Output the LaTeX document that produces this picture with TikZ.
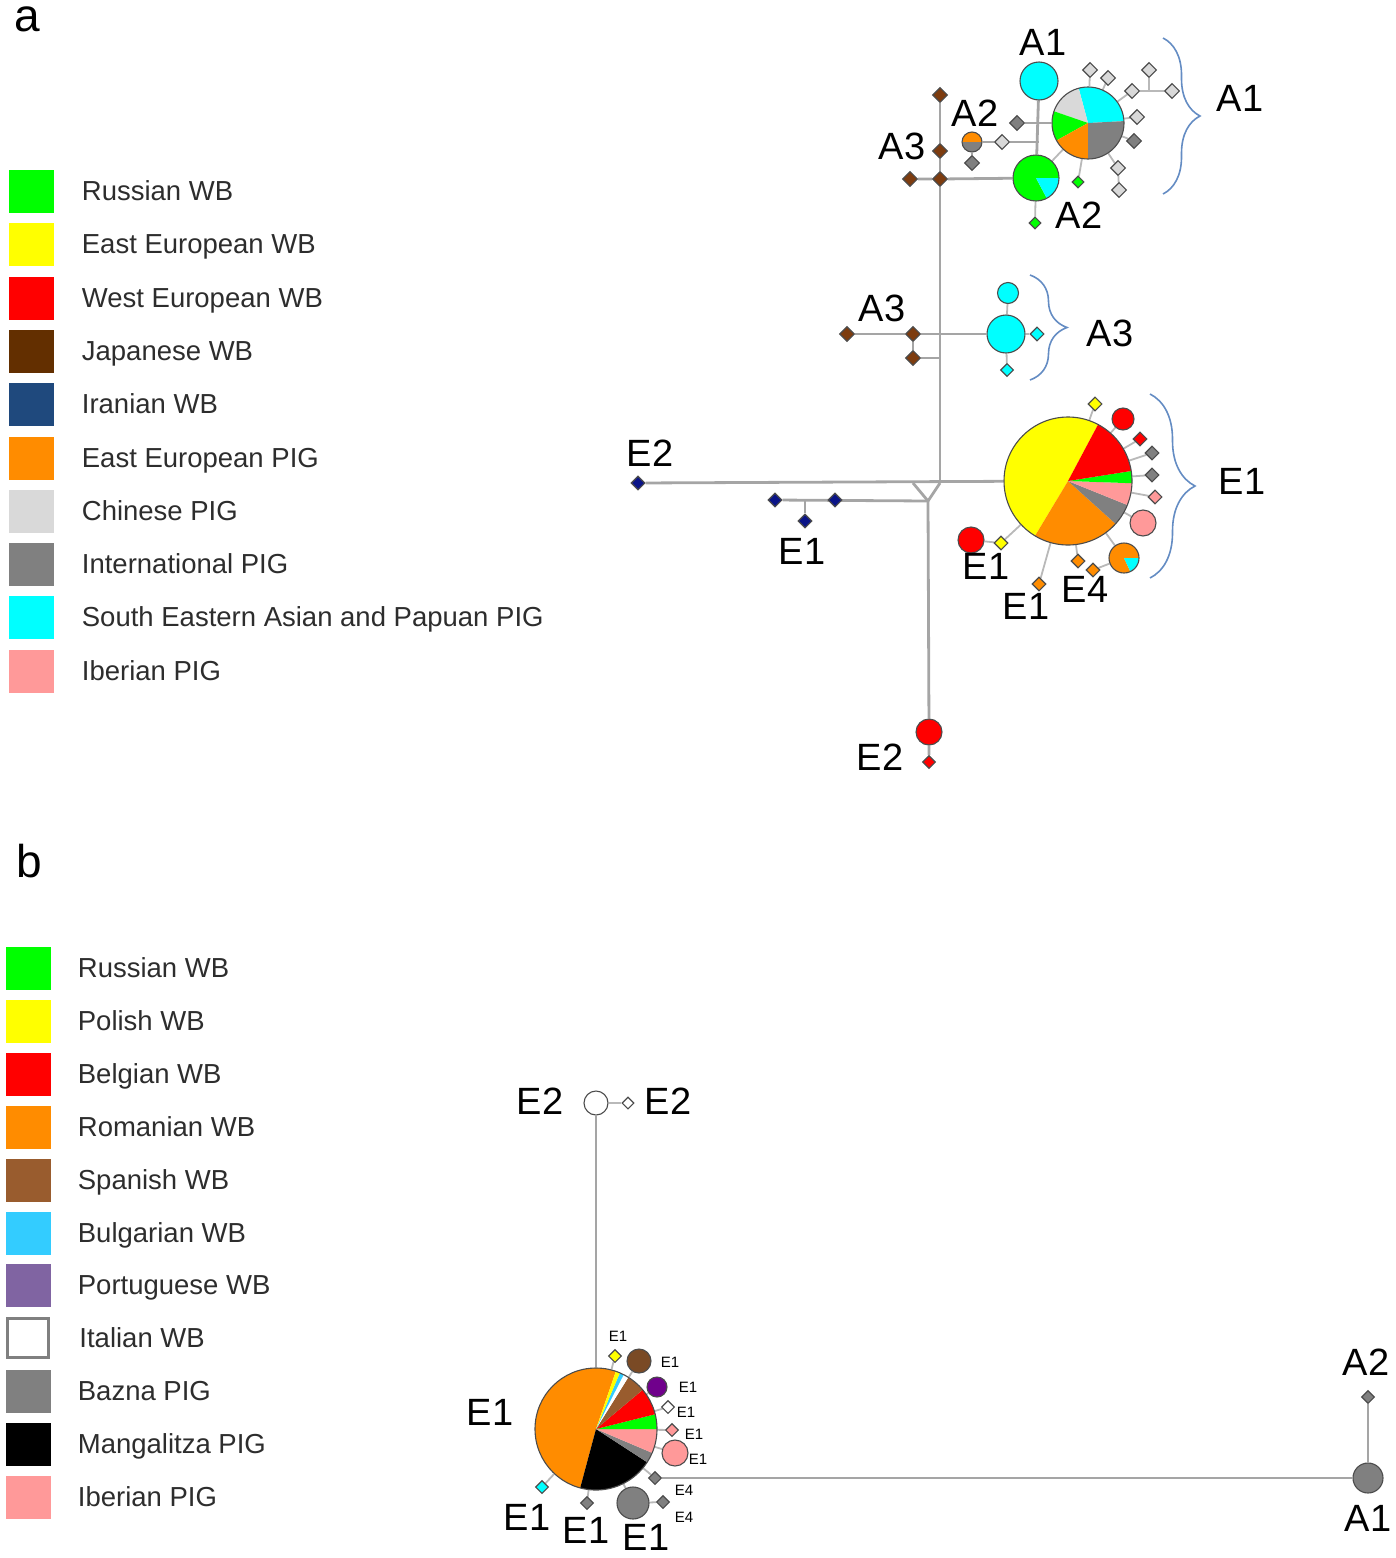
\documentclass[tikz,border=0pt]{standalone}
\usepackage{fontspec}
\setmainfont{Liberation Sans}
\usetikzlibrary{positioning}
\usetikzlibrary{shapes.geometric}
\usetikzlibrary{decorations.pathreplacing}

\definecolor{rus}{RGB}{0,255,0}
\definecolor{eeu}{RGB}{255,255,0}
\definecolor{weu}{RGB}{255,0,0}
\definecolor{jap}{RGB}{99,47,0}
\definecolor{japn}{RGB}{125,60,15}
\definecolor{ira}{RGB}{31,73,125}
\definecolor{iran}{RGB}{10,20,135}
\definecolor{eepig}{RGB}{255,140,0}
\definecolor{chpig}{RGB}{217,217,217}
\definecolor{intpig}{RGB}{128,128,128}
\definecolor{seapig}{RGB}{0,255,255}
\definecolor{ibpig}{RGB}{255,153,153}
\definecolor{spa}{RGB}{153,92,46}
\definecolor{bul}{RGB}{51,204,255}
\definecolor{por}{RGB}{128,100,162}
\definecolor{purp}{RGB}{112,0,140}
\definecolor{linkgray}{RGB}{165,165,165}
\definecolor{twiggray}{RGB}{185,185,185}
\definecolor{bracecol}{RGB}{100,140,195}
\definecolor{keyink}{RGB}{45,45,45}

\newcommand{\legfont}{\fontsize{27.5}{33}\selectfont}
\newcommand{\labfont}{\fontsize{38}{44}\selectfont}
\newcommand{\minifont}{\fontsize{15}{18}\selectfont}
\newcommand{\headfont}{\fontsize{46}{52}\selectfont}
% one wedge of a haplotype pie: centre, radius, from, to, colour
\newcommand{\hapslice}[5]{\fill[#5] (#1) -- ++({-(#3)}:#2) arc[start angle={-(#3)}, end angle={-(#4)}, radius=#2] -- cycle;}

\pgfdeclarelayer{bg}
\pgfsetlayers{bg,main}

\tikzset{
  link/.style={draw=linkgray, line width=2.8pt},
  twig/.style={draw=twiggray, line width=1.8pt},
  hap/.style={circle, draw=black!70, line width=1.1pt, inner sep=0pt},
  mv/.style={diamond, draw=black!70, line width=1.1pt, inner sep=0pt, minimum size=15pt},
  pieedge/.style={circle, draw=black!70, line width=1.1pt, inner sep=0pt},
  keybox/.style={minimum width=45pt, minimum height=43pt, inner sep=0pt},
  keytext/.style={anchor=west, font=\legfont, text=keyink, inner sep=0pt, text height=19.8pt, text depth=0pt},
  lab/.style={font=\labfont, inner sep=0pt, text height=27.3pt, text depth=0pt},
  minilab/.style={font=\minifont, inner sep=0pt, text height=10.8pt, text depth=0pt},
  headlab/.style={font=\headfont, anchor=base, inner sep=0pt, text height=24pt, text depth=0pt},
  grpbrace/.style={decorate, decoration={brace, amplitude=#1}, draw=bracecol, line width=1.6pt},
}

\begin{document}
\begin{tikzpicture}[x=1pt,y=-1pt]
\useasboundingbox (0,0) rectangle (1395,1558);

%% ---------------- panel a ----------------
\node[headlab] (heada) at (27,31) {a};

% legend a
\node[keybox, fill=rus] (ka1) at (31,191) {};
\node[keytext, right=28pt of ka1] (ta1) {Russian WB};
\node[keybox, fill=eeu] (ka2) at (31,244) {};
\node[keytext, right=28pt of ka2] (ta2) {East European WB};
\node[keybox, fill=weu] (ka3) at (31,298) {};
\node[keytext, right=28pt of ka3] (ta3) {West European WB};
\node[keybox, fill=jap] (ka4) at (31,351) {};
\node[keytext, right=28pt of ka4] (ta4) {Japanese WB};
\node[keybox, fill=ira] (ka5) at (31,404) {};
\node[keytext, right=28pt of ka5] (ta5) {Iranian WB};
\node[keybox, fill=eepig] (ka6) at (31,458) {};
\node[keytext, right=28pt of ka6] (ta6) {East European PIG};
\node[keybox, fill=chpig] (ka7) at (31,511) {};
\node[keytext, right=28pt of ka7] (ta7) {Chinese PIG};
\node[keybox, fill=intpig] (ka8) at (31,564) {};
\node[keytext, right=28pt of ka8] (ta8) {International PIG};
\node[keybox, fill=seapig] (ka9) at (31,617) {};
\node[keytext, right=28pt of ka9] (ta9) {South Eastern Asian and Papuan PIG};
\node[keybox, fill=ibpig] (ka10) at (31,671) {};
\node[keytext, right=28pt of ka10] (ta10) {Iberian PIG};

% backbone junctions
\coordinate (t1) at (913,483);
\coordinate (t2) at (940,483);
\coordinate (t3) at (928,501);
\coordinate (k1) at (805,500);
\coordinate (k2) at (1149,91);
\coordinate (vb3) at (940,358);

% A1 / A2 group
\coordinate (cpA1) at (1088,123);
\hapslice{cpA1}{36}{3}{105}{seapig}
\hapslice{cpA1}{36}{105}{161}{chpig}
\hapslice{cpA1}{36}{161}{209}{rus}
\hapslice{cpA1}{36}{209}{270}{eepig}
\hapslice{cpA1}{36}{270}{363}{intpig}
\node[pieedge, minimum size=72pt] (pA1) at (cpA1) {};
\coordinate (cgA2) at (1036,178);
\hapslice{cgA2}{23}{0}{298}{rus}
\hapslice{cgA2}{23}{298}{360}{seapig}
\node[pieedge, minimum size=46pt] (gA2) at (cgA2) {};
\coordinate (coA2) at (972,142);
\hapslice{coA2}{10}{0}{180}{eepig}
\hapslice{coA2}{10}{180}{360}{intpig}
\node[pieedge, minimum size=20pt] (oA2) at (coA2) {};
\node[hap, fill=seapig, minimum size=38pt] (cA1) at (1039,81) {};
\node[mv, fill=intpig] (dA2) at (972,163) {};
\node[mv, fill=chpig] (lA2) at (1002,142) {};
\coordinate (kA) at (cA1 |- lA2);
\node[mv, fill=intpig] (dgA) at (1017,123) {};
\node[mv, fill=chpig] (s1) at (1090,70) {};
\node[mv, fill=chpig] (s2) at (1108,78) {};
\node[mv, fill=chpig] (s3) at (1132,91) {};
\node[mv, fill=chpig] (s4) at (1149,70) {};
\node[mv, fill=chpig] (s5) at (1172,91) {};
\node[mv, fill=chpig] (s6) at (1137,117) {};
\node[mv, fill=intpig] (s7) at (1134,141) {};
\node[mv, fill=chpig] (s8) at (1118,168) {};
\node[mv, fill=chpig] (s9) at (1119,190) {};
\node[mv, fill=rus, minimum size=12pt] (gd1) at (1078,182) {};
\node[mv, fill=rus, minimum size=12pt] (gd2) at (1035,223) {};

% Japanese haplotypes
\node[mv, fill=japn] (ja1) at (940,95) {};
\node[mv, fill=japn] (ja2) at (940,151) {};
\node[mv, fill=japn] (ja3) at (940,179) {};
\node[mv, fill=japn] (ja4) at (910,179) {};
\node[mv, fill=japn] (jb1) at (847,334) {};
\node[mv, fill=japn] (jb2) at (913,334) {};
\node[mv, fill=japn] (jb3) at (913,358) {};

% A3 group
\node[hap, fill=seapig, minimum size=38pt] (cA3) at (1006,334) {};
\node[hap, fill=seapig, minimum size=21pt] (c3a) at (1008,293) {};
\node[mv, fill=seapig, minimum size=14pt] (c3b) at (1037,334) {};
\node[mv, fill=seapig, minimum size=13pt] (c3c) at (1007,370) {};

% Iranian haplotypes
\node[mv, fill=iran, minimum size=14pt] (iE2) at (638,483) {};
\node[mv, fill=iran, minimum size=14pt] (i1) at (775,500) {};
\node[mv, fill=iran, minimum size=14pt] (i2) at (835,500) {};
\node[mv, fill=iran, minimum size=14pt] (i3) at (805,521) {};

% E1 group
\coordinate (cpE1) at (1068,481);
\hapslice{cpE1}{64}{62}{239}{eeu}
\hapslice{cpE1}{64}{239}{318}{eepig}
\hapslice{cpE1}{64}{318}{338}{intpig}
\hapslice{cpE1}{64}{338}{358}{ibpig}
\hapslice{cpE1}{64}{358}{369}{rus}
\hapslice{cpE1}{64}{369}{422}{weu}
\node[pieedge, minimum size=128pt] (pE1) at (cpE1) {};
\coordinate (ce8) at (1124,558);
\hapslice{ce8}{15}{0}{295}{eepig}
\hapslice{ce8}{15}{295}{360}{seapig}
\node[pieedge, minimum size=30pt] (e8) at (ce8) {};
\node[mv, fill=eeu, minimum size=14pt] (e1) at (1095,404) {};
\node[hap, fill=weu, minimum size=22pt] (e2) at (1123,419) {};
\node[mv, fill=weu, minimum size=14pt] (e3) at (1140,439) {};
\node[mv, fill=intpig, minimum size=14pt] (e4) at (1152,453) {};
\node[mv, fill=intpig, minimum size=14pt] (e5) at (1152,475) {};
\node[mv, fill=ibpig, minimum size=14pt] (e6) at (1155,497) {};
\node[hap, fill=ibpig, minimum size=26pt] (e7) at (1143,523) {};
\node[mv, fill=eepig, minimum size=14pt] (e9) at (1093,570) {};
\node[mv, fill=eepig, minimum size=14pt] (e10) at (1078,561) {};
\node[mv, fill=eepig, minimum size=14pt] (e11) at (1039,584) {};
\node[mv, fill=eeu, minimum size=14pt] (e12) at (1001,543) {};
\node[hap, fill=weu, minimum size=26pt] (e13) at (971,540) {};

% West European E2
\node[hap, fill=weu, minimum size=26pt] (rE2) at (929,732) {};
\node[mv, fill=weu, minimum size=13pt] (rE2b) at (929,762) {};

% labels a
\node[lab] (xA1t) at (1043,42) {A1};
\node[lab] (xA2a) at (975,113) {A2};
\node[lab] (xA3a) at (902,146) {A3};
\node[lab] (xA2b) at (1079,215) {A2};
\node[lab] (xA1r) at (1240,98) {A1};
\node[lab] (xA3b) at (882,308) {A3};
\node[lab] (xA3r) at (1110,333) {A3};
\node[lab] (xE2a) at (650,453) {E2};
\node[lab] (xE1a) at (802,551) {E1};
\node[lab] (xE1r) at (1242,481) {E1};
\node[lab] (xE1b) at (986,566) {E1};
\node[lab] (xE1c) at (1026,606) {E1};
\node[lab] (xE4a) at (1085,589) {E4};
\node[lab] (xE2b) at (880,757) {E2};

% braces
\draw[grpbrace=37pt] (1163,38) -- (1163,194);
\draw[grpbrace=37pt] (1030,275) -- (1030,380);
\draw[grpbrace=45pt] (1150,394) -- (1150,578);

%% ---------------- panel b ----------------
\node[headlab, text height=33pt] (headb) at (29,877) {b};

% legend b
\node[keybox, fill=rus] (kb1) at (28,968) {};
\node[keytext, right=27pt of kb1] (tb1) {Russian WB};
\node[keybox, fill=eeu] (kb2) at (28,1021) {};
\node[keytext, right=27pt of kb2] (tb2) {Polish WB};
\node[keybox, fill=weu] (kb3) at (28,1074) {};
\node[keytext, right=27pt of kb3] (tb3) {Belgian WB};
\node[keybox, fill=eepig] (kb4) at (28,1127) {};
\node[keytext, right=27pt of kb4] (tb4) {Romanian WB};
\node[keybox, fill=spa] (kb5) at (28,1180) {};
\node[keytext, right=27pt of kb5] (tb5) {Spanish WB};
\node[keybox, fill=bul] (kb6) at (28,1233) {};
\node[keytext, right=27pt of kb6] (tb6) {Bulgarian WB};
\node[keybox, fill=por] (kb7) at (28,1285) {};
\node[keytext, right=27pt of kb7] (tb7) {Portuguese WB};
\node[keybox, fill=white, draw=intpig, line width=3.5pt, minimum width=41pt, minimum height=39pt] (kb8) at (28,1338) {};
\node[keytext, right=29pt of kb8] (tb8) {Italian WB};
\node[keybox, fill=intpig] (kb9) at (28,1391) {};
\node[keytext, right=27pt of kb9] (tb9) {Bazna PIG};
\node[keybox, fill=black] (kb10) at (28,1444) {};
\node[keytext, right=27pt of kb10] (tb10) {Mangalitza PIG};
\node[keybox, fill=ibpig] (kb11) at (28,1497) {};
\node[keytext, right=27pt of kb11] (tb11) {Iberian PIG};

% E1 pie b
\coordinate (cpB) at (596,1429);
\hapslice{cpB}{61}{71}{255}{eepig}
\hapslice{cpB}{61}{255}{327}{black}
\hapslice{cpB}{61}{327}{337}{intpig}
\hapslice{cpB}{61}{337}{360}{ibpig}
\hapslice{cpB}{61}{360}{374}{rus}
\hapslice{cpB}{61}{374}{400}{weu}
\hapslice{cpB}{61}{400}{418}{spa}
\hapslice{cpB}{61}{418}{423}{white}
\hapslice{cpB}{61}{423}{427}{bul}
\hapslice{cpB}{61}{427}{431}{eeu}
\node[pieedge, minimum size=122pt] (pB) at (cpB) {};
\node[mv, fill=eeu, minimum size=13pt] (b1) at (615,1356) {};
\node[hap, fill=spa!80!black, minimum size=24pt] (b2) at (639,1361) {};
\node[hap, fill=purp, minimum size=20pt] (b3) at (657,1387) {};
\node[mv, fill=white, minimum size=13pt] (b4) at (668,1407) {};
\node[mv, fill=ibpig, minimum size=13pt] (b5) at (672,1430) {};
\node[hap, fill=ibpig, minimum size=26pt] (b6) at (675,1453) {};
\node[mv, fill=intpig, minimum size=13pt] (b7) at (655,1478) {};
\node[mv, fill=intpig, minimum size=13pt] (b8) at (663,1502) {};
\node[hap, fill=intpig, minimum size=32pt] (b9) at (633,1503) {};
\node[mv, fill=intpig, minimum size=13pt] (b10) at (587,1503) {};
\node[mv, fill=seapig, minimum size=13pt] (b11) at (542,1487) {};
\node[hap, fill=white, minimum size=24pt] (wE2) at (596,1103) {};
\node[mv, fill=white, minimum size=12pt] (wE2b) at (628,1103) {};
\node[hap, fill=intpig, minimum size=30pt] (gA1b) at (1368,1478) {};
\node[mv, fill=intpig, minimum size=13pt] (dA2b) at (1368,1397) {};

% labels b
\node[lab] (yE2l) at (540,1101) {E2};
\node[lab] (yE2r) at (668,1101) {E2};
\node[lab] (yE1l) at (490,1412) {E1};
\node[lab] (yE1a) at (527,1517) {E1};
\node[lab] (yE1b) at (586,1530) {E1};
\node[lab] (yE1c) at (646,1537) {E1};
\node[lab] (yA2) at (1366,1362) {A2};
\node[lab] (yA1) at (1368,1518) {A1};
\node[minilab] (m1) at (618,1336) {E1};
\node[minilab] (m2) at (670,1362) {E1};
\node[minilab] (m3) at (688,1387) {E1};
\node[minilab] (m4) at (686,1412) {E1};
\node[minilab] (m5) at (694,1434) {E1};
\node[minilab] (m6) at (698,1459) {E1};
\node[minilab] (m7) at (684,1490) {E4};
\node[minilab] (m8) at (684,1517) {E4};

%% ---------------- connectors ----------------
\begin{pgfonlayer}{bg}
\draw[link] (ja1) -- (ja2) -- (ja3) -- (t2);
\draw[link] (ja4) -- (ja3) -- (gA2);
\draw[link] (jb1) -- (jb2) -- (cA3);
\draw[link] (jb2) -- (jb3) -- (vb3);
\draw[link] (iE2) -- (pE1);
\draw[link] (t1) -- (t3) -- (t2);
\draw[link] (i1) -- (t3);
\draw[link] (k1) -- (i3);
\draw[link] (t3) -- (rE2) -- (rE2b);
\draw[link] (cA1) -- (gA2);
\draw[link] (oA2) -- (lA2) -- (kA);
\draw[link] (oA2) -- (dA2);
\draw[link] (dgA) -- (pA1);
\draw[twig] (gA2) -- (pA1);
\draw[twig] (s1) -- (pA1);
\draw[twig] (s2) -- (pA1);
\draw[twig] (s3) -- (pA1);
\draw[twig] (s3) -- (s5);
\draw[twig] (k2) -- (s4);
\draw[twig] (s6) -- (pA1);
\draw[twig] (s7) -- (pA1);
\draw[twig] (s8) -- (pA1);
\draw[twig] (s8) -- (s9);
\draw[twig] (gd1) -- (pA1);
\draw[twig] (gd2) -- (gA2);
\draw[twig] (cA3) -- (c3a);
\draw[twig] (cA3) -- (c3b);
\draw[twig] (cA3) -- (c3c);
\draw[twig] (e1) -- (pE1);
\draw[twig] (e2) -- (pE1);
\draw[twig] (e3) -- (pE1);
\draw[twig] (e4) -- (pE1);
\draw[twig] (e5) -- (pE1);
\draw[twig] (e6) -- (pE1);
\draw[twig] (e7) -- (pE1);
\draw[twig] (e8) -- (pE1);
\draw[twig] (e8) -- (e9);
\draw[twig] (e10) -- (pE1);
\draw[twig] (e11) -- (pE1);
\draw[twig] (e12) -- (pE1);
\draw[twig] (e13) -- (e12);
% panel b
\draw[link] (pB) -- (wE2);
\draw[twig] (wE2) -- (wE2b);
\draw[link] (b7) -- (gA1b);
\draw[link] (gA1b) -- (dA2b);
\draw[twig] (b1) -- (pB);
\draw[twig] (b2) -- (pB);
\draw[twig] (b3) -- (pB);
\draw[twig] (b4) -- (pB);
\draw[twig] (b5) -- (pB);
\draw[twig] (b6) -- (pB);
\draw[twig] (b7) -- (pB);
\draw[twig] (b9) -- (pB);
\draw[twig] (b8) -- (b9);
\draw[twig] (b10) -- (pB);
\draw[twig] (b11) -- (pB);
\end{pgfonlayer}
\end{tikzpicture}
\end{document}
